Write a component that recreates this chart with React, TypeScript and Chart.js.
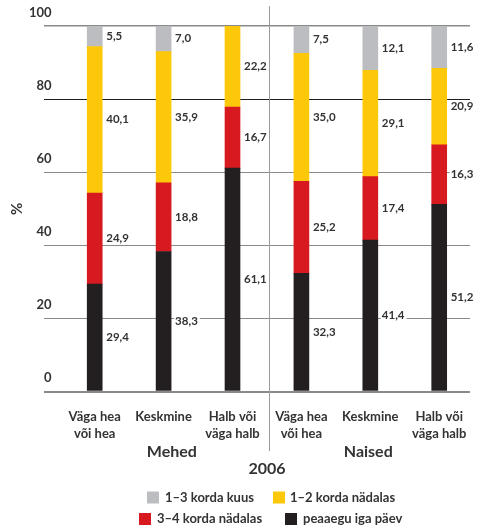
import React, { useEffect, useRef } from 'react';
import { Chart, registerables } from 'chart.js';
Chart.register(...registerables);

// ---- data ----
const categories: string[][] = [
  ['Väga hea', 'või hea'],
  ['Keskmine'],
  ['Halb või', 'väga halb'],
  ['Väga hea', 'või hea'],
  ['Keskmine'],
  ['Halb või', 'väga halb'],
];
const groupLabels = ['Mehed', 'Naised'];
const yearLabel = '2006';
const yAxisTitle = '%';
const yTicks = [0, 20, 40, 60, 80, 100];

const seriesNames = ['peaaegu iga päev', '3–4 korda nädalas', '1–2 korda nädalas', '1–3 korda kuus'];
const dailyValues = [29.4, 38.3, 61.1, 32.3, 41.4, 51.2];
const threeFourWeekValues = [24.9, 18.8, 16.7, 25.2, 17.4, 16.3];
const oneTwoWeekValues = [40.1, 35.9, 22.2, 35.0, 29.1, 20.9];
const oneThreeMonthValues = [5.5, 7.0, 0, 7.5, 12.1, 11.6];

const seriesColors = ['#231f20', '#d71920', '#fec80a', '#bcbdc0'];
const TEXT = '#333333';
const FONT = 'Lato, "Open Sans", sans-serif';

const seriesValues = [dailyValues, threeFourWeekValues, oneTwoWeekValues, oneThreeMonthValues];

const overlay = {
  id: 'overlay',
  beforeDatasetsDraw(chart: any) {
    const ctx = chart.ctx;
    const xs = chart.scales.x;
    ctx.save();
    ctx.strokeStyle = '#9a9a9a';
    ctx.lineWidth = 1;
    const sx = Math.round(xs.getPixelForValue(2.53)) + 0.5;
    ctx.beginPath();
    ctx.moveTo(sx, 6);
    ctx.lineTo(sx, 451);
    ctx.stroke();
    ctx.restore();
  },
  afterDatasetsDraw(chart: any) {
    const ctx = chart.ctx;
    const xs = chart.scales.x;
    ctx.save();
    // value labels
    ctx.font = `bold 11.5px ${FONT}`;
    ctx.textBaseline = 'middle';
    ctx.textAlign = 'left';
    chart.data.datasets.forEach((ds: any, di: number) => {
      const meta = chart.getDatasetMeta(di);
      meta.data.forEach((el: any, i: number) => {
        const v = ds.data[i].y;
        if (!v) return;
        const p = el.getProps(['x', 'y', 'base', 'width'], true);
        const text = v.toFixed(1).replace('.', ',');
        const tx = p.x + p.width / 2 + 4;
        const ty = (p.y + p.base) / 2;
        const w = ctx.measureText(text).width;
        ctx.fillStyle = '#ffffff';
        ctx.fillRect(tx - 1, ty - 6, w + 3, 12);
        ctx.fillStyle = TEXT;
        ctx.fillText(text, tx, ty);
      });
    });
    // group labels
    ctx.font = `bold 16px ${FONT}`;
    ctx.textAlign = 'center';
    ctx.fillStyle = TEXT;
    ctx.fillText(groupLabels[0], xs.getPixelForValue(1.12), 452);
    ctx.fillText(groupLabels[1], xs.getPixelForValue(3.97), 452);
    ctx.fillText(yearLabel, xs.getPixelForValue(2.5), 469);
    // legend
    const legendItems = [
      { s: 3, bx: 147, tx: 165, y: 497.5 },
      { s: 2, bx: 273, tx: 290, y: 497.5 },
      { s: 1, bx: 139, tx: 157, y: 519 },
      { s: 0, bx: 285, tx: 303, y: 519 },
    ];
    ctx.font = `bold 13px ${FONT}`;
    ctx.textAlign = 'left';
    legendItems.forEach((it) => {
      ctx.fillStyle = seriesColors[it.s];
      ctx.fillRect(it.bx, it.y - 6, 12, 12);
      ctx.fillStyle = TEXT;
      ctx.fillText(seriesNames[it.s], it.tx, it.y);
    });
    ctx.restore();
  },
};

export default function App() {
  const ref = useRef<HTMLCanvasElement>(null);
  useEffect(() => {
    const datasets = seriesValues.map((vals, si) => ({
      label: seriesNames[si],
      data: vals.map((v, i) => ({ x: i, y: v })),
      backgroundColor: seriesColors[si],
      borderWidth: 0,
      barThickness: 15,
    }));
    const chart = new Chart(ref.current as HTMLCanvasElement, {
      type: 'bar',
      data: { datasets } as any,
      plugins: [overlay],
      options: {
        responsive: false,
        animation: false,
        layout: { padding: { left: 4, right: 11, top: 26, bottom: 72.5 } },
        plugins: { legend: { display: false }, tooltip: { enabled: false } },
        scales: {
          x: {
            type: 'linear',
            stacked: true,
            offset: false,
            min: -0.736,
            max: 5.447,
            grid: { display: false },
            border: { display: false },
            afterBuildTicks: (s: any) => {
              s.ticks = categories.map((_, i) => ({ value: i }));
            },
            afterFit: (s: any) => {
              s.height = 66;
            },
            ticks: {
              autoSkip: false,
              maxRotation: 0,
              padding: 9,
              color: TEXT,
              font: { family: FONT, size: 13, weight: 'bold', lineHeight: 1.3 },
              callback: (v: any) => categories[v] ?? '',
            },
          },
          y: {
            stacked: true,
            min: 0,
            max: 100,
            afterBuildTicks: (s: any) => {
              s.ticks = yTicks.map((v) => ({ value: v }));
            },
            afterFit: (s: any) => {
              s.width = 40;
            },
            title: {
              display: true,
              text: yAxisTitle,
              color: TEXT,
              font: { family: FONT, size: 15, weight: 'bold' },
            },
            grid: {
              drawTicks: false,
              color: (c: any) => (c.tick && c.tick.value === 80 ? '#1e1e1e' : '#8a8a8a'),
              lineWidth: (c: any) => (c.tick && c.tick.value === 0 ? 2 : c.tick && c.tick.value === 100 ? 1.5 : 1),
            },
            border: { display: false },
            ticks: {
              mirror: true,
              crossAlign: 'far',
              padding: -15,
              labelOffset: -13.5,
              color: TEXT,
              font: { family: FONT, size: 13, weight: 'bold' },
            },
          },
        },
      } as any,
    });
    return () => chart.destroy();
  }, []);
  return (
    <div style={{ position: 'fixed', left: 0, top: 0, width: 481, height: 530, background: '#fff' }}>
      <canvas ref={ref} width={481} height={530} style={{ width: 481, height: 530, display: 'block' }} />
    </div>
  );
}
